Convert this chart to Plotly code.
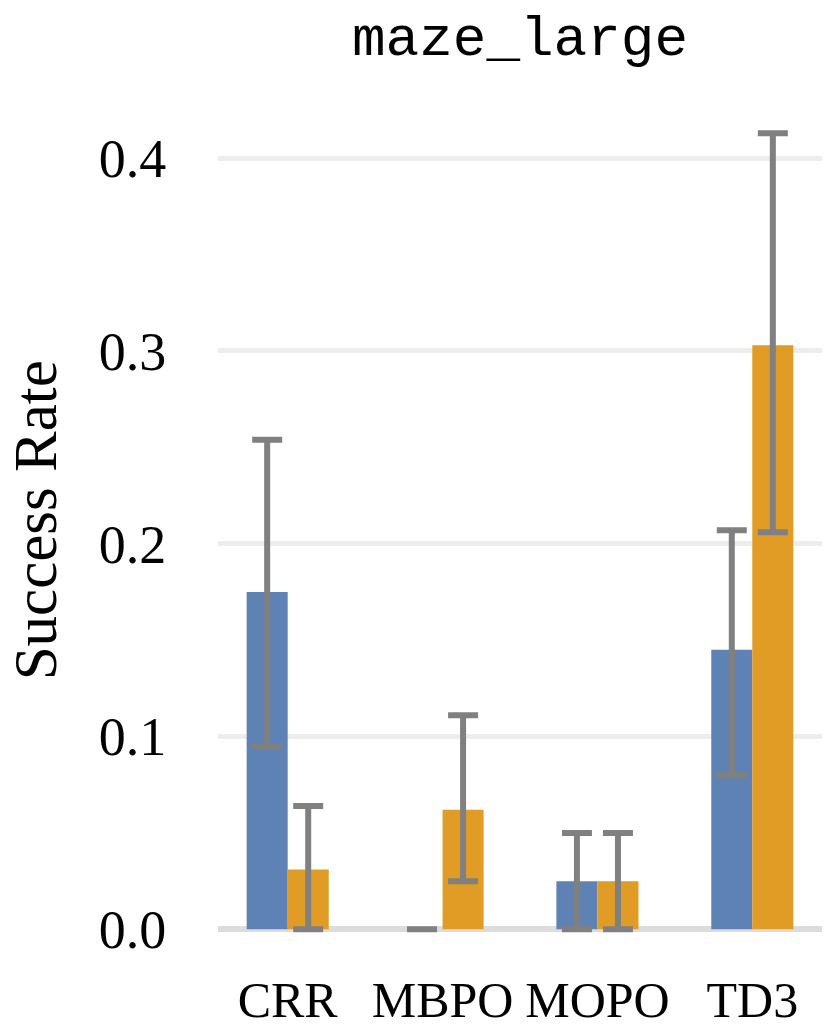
import plotly.graph_objects as go

# values
methods = ['CRR', 'MBPO', 'MOPO', 'TD3']
blue_vals = [0.175, 0.0, 0.025, 0.145]
blue_err_up = [0.079, 0.0, 0.025, 0.062]
blue_err_down = [0.080, 0.0, 0.025, 0.065]
orange_vals = [0.031, 0.062, 0.025, 0.303]
orange_err_up = [0.033, 0.049, 0.025, 0.110]
orange_err_down = [0.031, 0.037, 0.025, 0.097]

BLUE = '#5f82b4'
ORANGE = '#e09c25'
ERR = '#808080'
CLEAR = 'rgba(0,0,0,0)'

fig = go.Figure()
for vals, up, down, col in [(blue_vals, blue_err_up, blue_err_down, BLUE),
                            (orange_vals, orange_err_up, orange_err_down, ORANGE)]:
    fig.add_trace(go.Bar(
        x=methods, y=vals,
        marker=dict(color=col, line=dict(width=0)),
        error_y=dict(type='data', symmetric=False, array=up, arrayminus=down,
                     color=ERR, thickness=6, width=15),
        showlegend=False,
    ))

plot_left, plot_right = 218, 822

fig.update_layout(
    width=830, height=1033,
    margin=dict(l=plot_left, r=830 - plot_right, t=110, b=94),
    paper_bgcolor='white', plot_bgcolor='white',
    barmode='group', bargap=0.47, bargroupgap=0,
    font=dict(family='Liberation Serif', color='black'),
    title=dict(text='maze_large', x=(plot_left + plot_right) / 2 / 830, xanchor='center',
               y=1 - 35 / 1033, yanchor='middle',
               font=dict(family='Liberation Mono', size=56, color='black')),
    xaxis=dict(range=[-0.45, 3.45], showgrid=False, showline=False,
               ticks='outside', ticklen=17, tickcolor=CLEAR, automargin=False,
               tickfont=dict(size=50, family='Liberation Serif')),
    yaxis=dict(range=[-0.005, 0.425], tickvals=[0, 0.1, 0.2, 0.3, 0.4],
               ticktext=['0.0', '0.1', '0.2', '0.3', '0.4'],
               showgrid=True, gridcolor='#ededed', gridwidth=5,
               zeroline=True, zerolinecolor='#dcdcdc', zerolinewidth=6,
               showline=False, ticks='outside', ticklen=40, tickcolor=CLEAR,
               automargin=False,
               tickfont=dict(size=54, family='Liberation Serif')),
    annotations=[dict(text='Success Rate', textangle=-90, xref='paper', yref='paper',
                      x=-(plot_left - 35) / (plot_right - plot_left), y=0.505,
                      xanchor='center', yanchor='middle', showarrow=False,
                      font=dict(family='Liberation Serif', size=61, color='black'))],
)

fig.write_html('out.html', config={'displayModeBar': False},
               post_script="document.body.style.margin='0px';")
